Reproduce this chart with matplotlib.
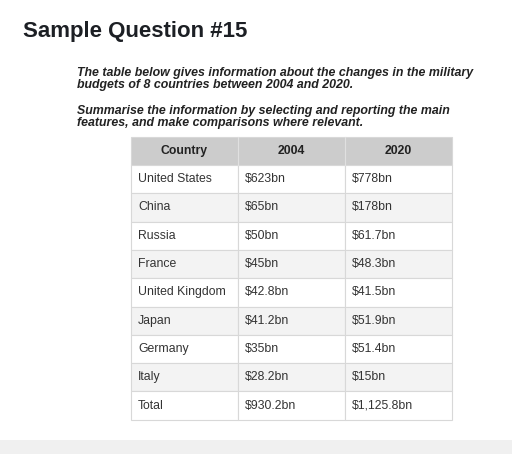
import matplotlib
matplotlib.use("Agg")
import matplotlib.pyplot as plt
from matplotlib.patches import Rectangle

COUNTRIES = ["United States", "China", "Russia", "France", "United Kingdom",
             "Japan", "Germany", "Italy", "Total"]
Y2004 = ["$623bn", "$65bn", "$50bn", "$45bn", "$42.8bn", "$41.2bn", "$35bn",
         "$28.2bn", "$930.2bn"]
Y2020 = ["$778bn", "$178bn", "$61.7bn", "$48.3bn", "$41.5bn", "$51.9bn",
         "$51.4bn", "$15bn", "$1,125.8bn"]
HEADERS = ["Country", "2004", "2020"]

plt.rcParams["font.family"] = ["Liberation Sans", "DejaVu Sans"]
fig = plt.figure(figsize=(5.12, 4.54), dpi=100)
ax = fig.add_axes([0, 0, 1, 1])
ax.set_xlim(0, 512)
ax.set_ylim(454, 0)
ax.axis("off")

ax.text(23, 32, "Sample Question #15", fontsize=16, fontweight="bold",
        color="#1c1f24", va="center")
ax.text(77, 79, "The table below gives information about the changes in the military\n"
        "budgets of 8 countries between 2004 and 2020.", fontsize=8.9,
        fontweight="bold", style="italic", color="#222", va="center", linespacing=1.0)
ax.text(77, 117, "Summarise the information by selecting and reporting the main\n"
        "features, and make comparisons where relevant.", fontsize=8.9,
        fontweight="bold", style="italic", color="#222", va="center", linespacing=1.0)

cols = [131, 238, 345, 452]
top, hh, rh = 137, 28, 28.3
ax.add_patch(Rectangle((cols[0], top), cols[-1] - cols[0], hh,
                       facecolor="#cccccc", edgecolor="#d8d8d8", lw=0.8))
for j, h in enumerate(HEADERS):
    ax.text((cols[j] + cols[j + 1]) / 2, top + hh / 2, h, ha="center",
            va="center", fontsize=8.8, fontweight="bold", color="#222")
for i, row in enumerate(zip(COUNTRIES, Y2004, Y2020)):
    y0 = top + hh + i * rh
    fc = "#ffffff" if i % 2 == 0 else "#f3f3f3"
    for j, val in enumerate(row):
        ax.add_patch(Rectangle((cols[j], y0), cols[j + 1] - cols[j], rh,
                               facecolor=fc, edgecolor="#d8d8d8", lw=0.8))
        ax.text(cols[j] + 7, y0 + rh / 2, val, va="center", fontsize=8.8,
                color="#333")
for j in range(1, 3):
    ax.plot([cols[j]] * 2, [top, top + hh], color="#e0e0e0", lw=0.8)

ax.add_patch(Rectangle((0, 440), 512, 14, facecolor="#f0f0f0", edgecolor="none"))
fig.savefig("out.png", dpi=100)
